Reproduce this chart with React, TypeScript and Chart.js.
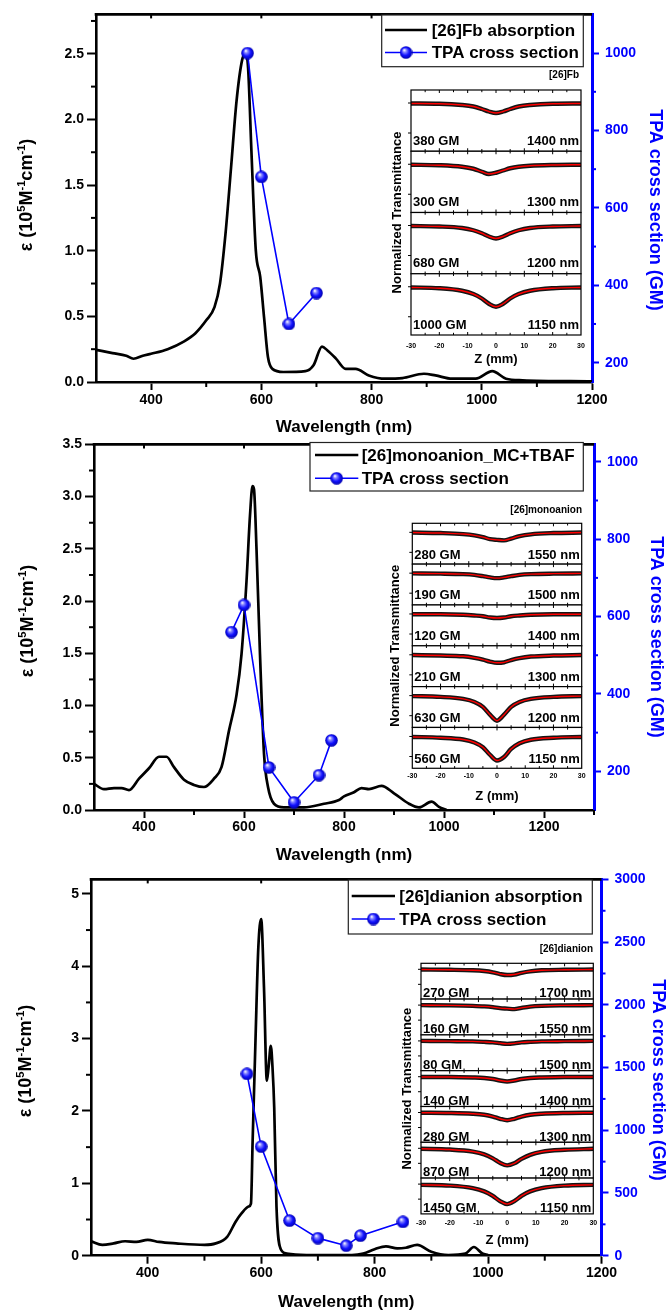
import React, { useEffect, useRef } from 'react';
import { Chart, registerables } from 'chart.js';

Chart.register(...registerables);

const FONT = "'Liberation Sans', Arial, Helvetica, sans-serif";
const BLUE = '#0000ff';

// ---------------- DATA ----------------
// Panel 1 : [26]Fb
const fbWavelength = [300, 330, 355, 368, 385, 400, 430, 460, 480, 500, 515, 525, 535, 545, 555, 565, 571, 576, 582, 590, 598, 605, 612, 620, 640, 680, 695, 710, 720, 735, 753, 771, 795, 825, 856, 895, 916, 946, 989, 1019, 1044, 1074, 1200];
const fbEpsilon = [0.245, 0.22, 0.2, 0.177, 0.2, 0.215, 0.25, 0.31, 0.37, 0.47, 0.57, 0.75, 1.13, 1.63, 2.14, 2.45, 2.5, 2.39, 1.76, 1.0, 0.8, 0.49, 0.19, 0.1, 0.076, 0.083, 0.13, 0.27, 0.24, 0.18, 0.1, 0.1, 0.05, 0.025, 0.03, 0.063, 0.05, 0.025, 0.025, 0.083, 0.025, 0.013, 0.005];
const fbTpaWavelength = [575, 600, 650, 700];
const fbTpaCross = [1000, 680, 300, 380];

// Panel 2 : [26]monoanion
const monoWavelength = [300, 320, 340, 355, 370, 390, 410, 430, 445, 460, 480, 500, 520, 540, 555, 570, 585, 595, 605, 612, 617, 620, 625, 632, 640, 648, 660, 680, 720, 760, 790, 800, 820, 835, 850, 875, 900, 930, 950, 975, 990, 1005];
const monoEpsilon = [0.25, 0.2, 0.21, 0.21, 0.19, 0.3, 0.4, 0.51, 0.51, 0.41, 0.29, 0.24, 0.22, 0.3, 0.41, 0.76, 1.1, 1.49, 2.19, 2.82, 3.1, 3.07, 2.5, 1.49, 0.54, 0.22, 0.06, 0.025, 0.025, 0.06, 0.095, 0.13, 0.17, 0.21, 0.2, 0.23, 0.16, 0.06, 0.025, 0.08, 0.03, 0.0];
const monoTpaWavelength = [575, 600, 650, 700, 750, 775];
const monoTpaCross = [560, 630, 210, 120, 190, 280];

// Panel 3 : [26]dianion
const diWavelength = [300, 320, 340, 360, 380, 400, 420, 450, 500, 520, 540, 555, 565, 578, 582, 585, 590, 595, 600, 605, 610, 613, 617, 620, 623, 627, 634, 645, 680, 760, 780, 800, 820, 840, 855, 875, 900, 930, 960, 975, 990, 1000];
const diEpsilon = [0.2, 0.15, 0.17, 0.2, 0.19, 0.22, 0.19, 0.17, 0.15, 0.17, 0.26, 0.47, 0.58, 0.68, 0.72, 1.6, 2.98, 4.26, 4.65, 3.7, 2.42, 2.6, 2.9, 2.6, 2.05, 0.68, 0.1, 0.03, 0.01, 0.01, 0.03, 0.09, 0.13, 0.1, 0.11, 0.15, 0.055, 0.01, 0.03, 0.12, 0.03, 0.01];
const diTpaWavelength = [575, 600, 650, 700, 750, 775, 850];
const diTpaCross = [1450, 870, 280, 140, 80, 160, 270];

// Z-scan insets (normalized transmittance at z positions, mm)
const zPositions = [-30, -20, -12, -8, -5, -2.5, 0, 2.5, 5, 8, 12, 20, 30];
const zTickLabels = [-30, -20, -10, 0, 10, 20, 30];
const zTickMinor = [-25, -15, -5, 5, 15, 25];

const fbZ1400 = [0.998, 0.997, 0.992, 0.986, 0.976, 0.966, 0.960, 0.966, 0.976, 0.986, 0.992, 0.997, 0.998];
const fbZ1300 = [0.998, 0.996, 0.990, 0.982, 0.970, 0.961, 0.966, 0.975, 0.984, 0.990, 0.994, 0.997, 0.998];
const fbZ1200 = [0.998, 0.996, 0.990, 0.981, 0.969, 0.956, 0.948, 0.956, 0.969, 0.981, 0.990, 0.996, 0.998];
const fbZ1150 = [0.997, 0.994, 0.984, 0.971, 0.953, 0.932, 0.920, 0.932, 0.953, 0.971, 0.984, 0.994, 0.997];
const fbZRows = [fbZ1400, fbZ1300, fbZ1200, fbZ1150];
const fbGmLabels = ['380 GM', '300 GM', '680 GM', '1000 GM'];
const fbNmLabels = ['1400 nm', '1300 nm', '1200 nm', '1150 nm'];

const monoZ1550 = [0.999, 0.997, 0.993, 0.988, 0.981, 0.973, 0.970, 0.968, 0.975, 0.985, 0.992, 0.997, 0.999];
const monoZ1500 = [0.999, 0.998, 0.996, 0.993, 0.988, 0.983, 0.980, 0.983, 0.988, 0.993, 0.996, 0.998, 0.999];
const monoZ1400 = [0.999, 0.999, 0.997, 0.994, 0.991, 0.986, 0.984, 0.986, 0.991, 0.994, 0.997, 0.999, 0.999];
const monoZ1300 = [0.999, 0.997, 0.994, 0.988, 0.981, 0.973, 0.968, 0.970, 0.979, 0.987, 0.993, 0.997, 0.999];
const monoZ1200 = [0.998, 0.995, 0.987, 0.975, 0.955, 0.924, 0.900, 0.924, 0.955, 0.975, 0.987, 0.995, 0.998];
const monoZ1150 = [0.998, 0.995, 0.988, 0.976, 0.957, 0.927, 0.904, 0.918, 0.950, 0.973, 0.987, 0.995, 0.998];
const monoZRows = [monoZ1550, monoZ1500, monoZ1400, monoZ1300, monoZ1200, monoZ1150];
const monoGmLabels = ['280 GM', '190 GM', '120 GM', '210 GM', '630 GM', '560 GM'];
const monoNmLabels = ['1550 nm', '1500 nm', '1400 nm', '1300 nm', '1200 nm', '1150 nm'];

const diZ1700 = [0.999, 0.998, 0.996, 0.993, 0.988, 0.981, 0.977, 0.979, 0.986, 0.992, 0.996, 0.998, 0.999];
const diZ1550 = [1.0, 0.999, 0.997, 0.995, 0.992, 0.988, 0.986, 0.984, 0.989, 0.994, 0.997, 0.999, 1.0];
const diZ1500 = [1.0, 0.999, 0.998, 0.996, 0.994, 0.991, 0.988, 0.990, 0.994, 0.996, 0.998, 0.999, 1.0];
const diZ1400 = [0.999, 0.999, 0.997, 0.995, 0.991, 0.985, 0.981, 0.985, 0.991, 0.995, 0.997, 0.999, 0.999];
const diZ1300 = [0.999, 0.998, 0.995, 0.991, 0.984, 0.975, 0.969, 0.975, 0.984, 0.991, 0.995, 0.998, 0.999];
const diZ1200 = [0.998, 0.995, 0.987, 0.976, 0.960, 0.942, 0.932, 0.940, 0.958, 0.974, 0.986, 0.994, 0.998];
const diZ1150 = [0.997, 0.994, 0.984, 0.971, 0.953, 0.932, 0.920, 0.932, 0.953, 0.971, 0.984, 0.994, 0.997];
const diZRows = [diZ1700, diZ1550, diZ1500, diZ1400, diZ1300, diZ1200, diZ1150];
const diGmLabels = ['270 GM', '160 GM', '80 GM', '140 GM', '280 GM', '870 GM', '1450 GM'];
const diNmLabels = ['1700 nm', '1550 nm', '1500 nm', '1400 nm', '1300 nm', '1200 nm', '1150 nm'];

// Tick values
const xMajorTicks = [400, 600, 800, 1000, 1200];
const xMinorTicks = [500, 700, 900, 1100];
const xMinorTicksWide = [500, 700, 900, 1100, 1300];
const epsTicksFb = [0, 0.5, 1.0, 1.5, 2.0, 2.5];
const epsMinorFb = [0.25, 0.75, 1.25, 1.75, 2.25, 2.75];
const epsTicksMono = [0, 0.5, 1.0, 1.5, 2.0, 2.5, 3.0, 3.5];
const epsMinorMono = [0.25, 0.75, 1.25, 1.75, 2.25, 2.75, 3.25];
const epsTicksDi = [0, 1, 2, 3, 4, 5];
const epsMinorDi = [0.5, 1.5, 2.5, 3.5, 4.5];
const gmTicksFb = [200, 400, 600, 800, 1000];
const gmMinorFb = [300, 500, 700, 900];
const gmTicksMono = [200, 400, 600, 800, 1000];
const gmMinorMono = [300, 500, 700, 900];
const gmTicksDi = [0, 500, 1000, 1500, 2000, 2500, 3000];
const gmMinorDi = [250, 750, 1250, 1750, 2250, 2750];

// ---------------- LAYOUT ----------------
type Inset = {
  x: number; w: number; top: number; rowH: number; yMin: number; yMax: number; yTicks: number[];
  labelOff: number; xPad: number; rows: number[][]; gm: string[]; nm: string[];
  ntX: number; zTitleY: number; tag: string; tagX: number; tagY: number;
};
type Panel = {
  top: number; h: number; padTop: number; left: number; right: number; xAxisH: number; xPad: number;
  xMin: number; xMax: number; xMinor: number[];
  yMax: number; yTicks: number[]; yMinor: number[]; yDigits: number;
  y2Min: number; y2Max: number; y2Ticks: number[]; y2Minor: number[];
  absX: number[]; absY: number[]; tpaX: number[]; tpaY: number[];
  legendText: string; legend: { x: number; y: number; w: number; h: number; r1: number; r2: number; l0: number; l1: number; tx: number };
  xTitleY: number; leftTitle: [number, number]; rightTitle: [number, number];
  inset: Inset;
};

const panels: Panel[] = [
  {
    top: 0, h: 440, padTop: 13, left: 96, right: 592, xAxisH: 58, xPad: 1.6,
    xMin: 300, xMax: 1200, xMinor: xMinorTicks,
    yMax: 2.8, yTicks: epsTicksFb, yMinor: epsMinorFb, yDigits: 1,
    y2Min: 150, y2Max: 1100, y2Ticks: gmTicksFb, y2Minor: gmMinorFb,
    absX: fbWavelength, absY: fbEpsilon, tpaX: fbTpaWavelength, tpaY: fbTpaCross,
    legendText: '[26]Fb absorption',
    legend: { x: 381.7, y: 15, w: 201.6, h: 51.7, r1: 30, r2: 52.5, l0: 385, l1: 427, tx: 431.7 },
    xTitleY: 427, leftTitle: [26, 195], rightTitle: [655, 210],
    inset: {
      x: 411, w: 170, top: 90, rowH: 61.25, yMin: 0.807, yMax: 1.052, yTicks: [1.0, 0.88],
      labelOff: 6.5, xPad: 6.8, rows: fbZRows, gm: fbGmLabels, nm: fbNmLabels,
      ntX: 397, zTitleY: 359, tag: '[26]Fb', tagX: 579, tagY: 75,
    },
  },
  {
    top: 430, h: 440, padTop: 11.3, left: 94, right: 594, xAxisH: 60, xPad: 0.6,
    xMin: 300, xMax: 1300, xMinor: xMinorTicksWide,
    yMax: 3.5, yTicks: epsTicksMono, yMinor: epsMinorMono, yDigits: 1,
    y2Min: 100, y2Max: 1045, y2Ticks: gmTicksMono, y2Minor: gmMinorMono,
    absX: monoWavelength, absY: monoEpsilon, tpaX: monoTpaWavelength, tpaY: monoTpaCross,
    legendText: '[26]monoanion_MC+TBAF',
    legend: { x: 310, y: 442.5, w: 273.3, h: 48.5, r1: 455, r2: 478.3, l0: 315, l1: 358.3, tx: 361.7 },
    xTitleY: 855, leftTitle: [27, 621], rightTitle: [656, 637],
    inset: {
      x: 412.3, w: 169.4, top: 523.3, rowH: 40.83, yMin: 0.873, yMax: 1.036, yTicks: [1.0, 0.92],
      labelOff: 5.5, xPad: 3.5, rows: monoZRows, gm: monoGmLabels, nm: monoNmLabels,
      ntX: 395, zTitleY: 796.7, tag: '[26]monoanion', tagX: 582, tagY: 510.7,
    },
  },
  {
    top: 865, h: 445, padTop: 13.3, left: 91, right: 601.5, xAxisH: 54.3, xPad: 1,
    xMin: 300, xMax: 1200, xMinor: xMinorTicks,
    yMax: 5.2, yTicks: epsTicksDi, yMinor: epsMinorDi, yDigits: 0,
    y2Min: 0, y2Max: 3000, y2Ticks: gmTicksDi, y2Minor: gmMinorDi,
    absX: diWavelength, absY: diEpsilon, tpaX: diTpaWavelength, tpaY: diTpaCross,
    legendText: '[26]dianion absorption',
    legend: { x: 348.3, y: 880, w: 244, h: 54, r1: 896, r2: 919, l0: 351.7, l1: 395, tx: 399.3 },
    xTitleY: 1302, leftTitle: [25, 1061], rightTitle: [657.5, 1080],
    inset: {
      x: 421, w: 172.3, top: 963.3, rowH: 35.8, yMin: 0.881, yMax: 1.024, yTicks: [1.0, 0.94],
      labelOff: 1.7, xPad: 4.5, rows: diZRows, gm: diGmLabels, nm: diNmLabels,
      ntX: 407.5, zTitleY: 1240, tag: '[26]dianion', tagX: 593, tagY: 949,
    },
  },
];

// ---------------- HELPERS ----------------
function makeSphere(d: number): HTMLCanvasElement {
  const c = document.createElement('canvas');
  c.width = d;
  c.height = d;
  const g = c.getContext('2d')!;
  const r = d / 2;
  const grad = g.createRadialGradient(r * 0.72, r * 0.62, r * 0.05, r, r, r);
  grad.addColorStop(0, '#ffffff');
  grad.addColorStop(0.22, '#8c8cff');
  grad.addColorStop(0.6, '#1212ff');
  grad.addColorStop(1, '#0000a8');
  g.fillStyle = grad;
  g.beginPath();
  g.arc(r, r, r - 0.2, 0, Math.PI * 2);
  g.fill();
  return c;
}

function line(ctx: CanvasRenderingContext2D, x0: number, y0: number, x1: number, y1: number) {
  ctx.beginPath();
  ctx.moveTo(x0, y0);
  ctx.lineTo(x1, y1);
  ctx.stroke();
}

function drawEpsTitle(ctx: CanvasRenderingContext2D, cx: number, cy: number, fs: number) {
  const segs: [string, boolean][] = [['ε (10', false], ['5', true], ['M', false], ['-1', true], ['cm', false], ['-1', true], [')', false]];
  const sfs = fs * 0.62;
  const widths = segs.map(([t, s]) => {
    ctx.font = `bold ${s ? sfs : fs}px ${FONT}`;
    return ctx.measureText(t).width;
  });
  const total = widths.reduce((a, b) => a + b, 0);
  ctx.save();
  ctx.translate(cx, cy);
  ctx.rotate(-Math.PI / 2);
  ctx.textAlign = 'left';
  ctx.textBaseline = 'alphabetic';
  ctx.fillStyle = '#000';
  let x = -total / 2;
  const base = fs * 0.36;
  segs.forEach(([t, s], i) => {
    ctx.font = `bold ${s ? sfs : fs}px ${FONT}`;
    ctx.fillText(t, x, s ? base - fs * 0.4 : base);
    x += widths[i];
  });
  ctx.restore();
}

// ---------------- MAIN PANEL ----------------
function MainPanel({ p }: { p: Panel }) {
  const ref = useRef<HTMLCanvasElement>(null);
  useEffect(() => {
    const sphere = makeSphere(13);
    const T = p.top;
    const tickFont = { family: FONT, size: 14, weight: 'bold' as const };
    const decor = {
      id: 'mainDecor',
      afterDraw(chart: any) {
        const ctx: CanvasRenderingContext2D = chart.ctx;
        const ca = chart.chartArea;
        const sx = chart.scales.x, sy = chart.scales.y, sy2 = chart.scales.y2;
        ctx.save();
        // top frame line
        ctx.strokeStyle = '#000';
        ctx.lineWidth = 2.6;
        line(ctx, ca.left - 1.3, ca.top, ca.right, ca.top);
        // minor ticks
        ctx.lineWidth = 2;
        p.xMinor.forEach((v) => { const px = sx.getPixelForValue(v); line(ctx, px, ca.bottom, px, ca.bottom + 5); });
        xMajorTicks.forEach((v) => { if (v < p.xMax) { const px = sx.getPixelForValue(v); line(ctx, px, ca.top, px, ca.top + 4); } });
        p.yMinor.forEach((v) => { const py = sy.getPixelForValue(v); line(ctx, ca.left - 5, py, ca.left, py); });
        ctx.strokeStyle = BLUE;
        p.y2Minor.forEach((v) => { const py = sy2.getPixelForValue(v); line(ctx, ca.right, py, ca.right + 4, py); });
        // axis titles
        ctx.fillStyle = '#000';
        ctx.font = `bold 17px ${FONT}`;
        ctx.textAlign = 'center';
        ctx.textBaseline = 'middle';
        ctx.fillText('Wavelength (nm)', (ca.left + ca.right) / 2, p.xTitleY - T);
        drawEpsTitle(ctx, p.leftTitle[0], p.leftTitle[1] - T, 18);
        ctx.save();
        ctx.translate(p.rightTitle[0], p.rightTitle[1] - T);
        ctx.rotate(Math.PI / 2);
        ctx.fillStyle = BLUE;
        ctx.font = `bold 18px ${FONT}`;
        ctx.textAlign = 'center';
        ctx.textBaseline = 'middle';
        ctx.fillText('TPA cross section (GM)', 0, 0);
        ctx.restore();
        // legend
        const L = p.legend;
        ctx.fillStyle = '#fff';
        ctx.fillRect(L.x, L.y - T, L.w, L.h);
        ctx.strokeStyle = '#222';
        ctx.lineWidth = 1.2;
        ctx.strokeRect(L.x, L.y - T, L.w, L.h);
        ctx.strokeStyle = '#000';
        ctx.lineWidth = 2.6;
        line(ctx, L.l0, L.r1 - T, L.l1, L.r1 - T);
        ctx.strokeStyle = BLUE;
        ctx.lineWidth = 1.6;
        line(ctx, L.l0, L.r2 - T, L.l1, L.r2 - T);
        ctx.drawImage(sphere, (L.l0 + L.l1) / 2 - 6.5, L.r2 - T - 6.5);
        ctx.fillStyle = '#000';
        ctx.font = `bold 17px ${FONT}`;
        ctx.textAlign = 'left';
        ctx.textBaseline = 'middle';
        ctx.fillText(p.legendText, L.tx, L.r1 - T + 1);
        ctx.fillText('TPA cross section', L.tx, L.r2 - T + 1);
        // inset texts
        const I = p.inset;
        const insetBottom = I.top + I.rowH * I.rows.length;
        ctx.save();
        ctx.translate(I.ntX, (I.top + insetBottom) / 2 - T);
        ctx.rotate(-Math.PI / 2);
        ctx.font = `bold 13px ${FONT}`;
        ctx.textAlign = 'center';
        ctx.textBaseline = 'middle';
        ctx.fillText('Normalized Transmittance', 0, 0);
        ctx.restore();
        ctx.font = `bold 13px ${FONT}`;
        ctx.textAlign = 'center';
        ctx.textBaseline = 'middle';
        ctx.fillText('Z (mm)', I.x + I.w / 2, I.zTitleY - T);
        ctx.font = `bold 10px ${FONT}`;
        ctx.textAlign = 'right';
        ctx.fillText(I.tag, I.tagX, I.tagY - T);
        ctx.restore();
      },
    };
    const chart = new Chart(ref.current!, {
      type: 'line',
      data: {
        datasets: [
          {
            label: 'TPA cross section',
            data: p.tpaX.map((x, i) => ({ x, y: p.tpaY[i] })),
            xAxisID: 'x', yAxisID: 'y2',
            borderColor: BLUE, backgroundColor: BLUE, borderWidth: 1.6,
            pointStyle: sphere as any, pointRadius: 6.5, tension: 0, fill: false,
          },
          {
            label: p.legendText,
            data: p.absX.map((x, i) => ({ x, y: p.absY[i] })),
            xAxisID: 'x', yAxisID: 'y',
            borderColor: '#000', borderWidth: 2.7, pointRadius: 0,
            cubicInterpolationMode: 'monotone', fill: false,
          },
        ],
      },
      options: {
        responsive: false,
        animation: false,
        layout: { padding: { top: p.padTop, left: 0, right: 0, bottom: 0 } },
        plugins: { legend: { display: false }, tooltip: { enabled: false } },
        scales: {
          x: {
            type: 'linear', position: 'bottom', min: p.xMin, max: p.xMax,
            afterBuildTicks: (s: any) => { s.ticks = xMajorTicks.map((value) => ({ value })); },
            afterFit: (s: any) => { s.height = p.xAxisH; },
            ticks: { callback: (v: any) => String(v), font: tickFont, color: '#000', padding: p.xPad, autoSkip: false, maxRotation: 0 },
            grid: { drawOnChartArea: false, drawTicks: true, tickLength: 8, tickWidth: 2, tickColor: '#000' },
            border: { display: true, color: '#000', width: 2.6 },
          },
          y: {
            type: 'linear', position: 'left', min: 0, max: p.yMax,
            afterBuildTicks: (s: any) => { s.ticks = p.yTicks.map((value) => ({ value })); },
            afterFit: (s: any) => { s.width = p.left; },
            ticks: { callback: (v: any) => Number(v).toFixed(p.yDigits), font: tickFont, color: '#000', padding: 3, autoSkip: false },
            grid: { drawOnChartArea: false, drawTicks: true, tickLength: 9, tickWidth: 2, tickColor: '#000' },
            border: { display: true, color: '#000', width: 2.6 },
          },
          y2: {
            type: 'linear', position: 'right', min: p.y2Min, max: p.y2Max,
            afterBuildTicks: (s: any) => { s.ticks = p.y2Ticks.map((value) => ({ value })); },
            afterFit: (s: any) => { s.width = 670 - p.right; },
            ticks: { callback: (v: any) => String(v), font: tickFont, color: BLUE, padding: 6, autoSkip: false },
            grid: { drawOnChartArea: false, drawTicks: true, tickLength: 7, tickWidth: 2, tickColor: BLUE },
            border: { display: true, color: BLUE, width: 3 },
          },
        },
      } as any,
      plugins: [decor],
    });
    return () => chart.destroy();
  }, [p]);
  return (
    <canvas
      ref={ref}
      width={670}
      height={p.h}
      style={{ position: 'absolute', left: 0, top: p.top, width: 670, height: p.h }}
    />
  );
}

// ---------------- INSET ROW ----------------
const INSET_MARGIN = 16;

function InsetRow({ ins, idx }: { ins: Inset; idx: number }) {
  const ref = useRef<HTMLCanvasElement>(null);
  const n = ins.rows.length;
  const isBottom = idx === n - 1;
  const rowTop = ins.top + idx * ins.rowH;
  const rowBot = rowTop + ins.rowH;
  const axisH = isBottom ? 20 : 0;
  const cTop = Math.floor(rowTop) - 2;
  const cH = Math.ceil(rowBot) + 2 + axisH - cTop;
  const cLeft = Math.floor(ins.x) - INSET_MARGIN;
  const cW = Math.ceil(ins.x + ins.w) + INSET_MARGIN - cLeft;
  useEffect(() => {
    const vals = ins.rows[idx];
    const pts = zPositions.map((x, i) => ({ x, y: vals[i] }));
    const decor = {
      id: 'insetDecor',
      beforeDraw(chart: any) {
        const ctx: CanvasRenderingContext2D = chart.ctx;
        const ca = chart.chartArea;
        ctx.save();
        ctx.fillStyle = '#fff';
        ctx.fillRect(ca.left, ca.top, ca.right - ca.left, ca.bottom - ca.top);
        ctx.restore();
      },
      afterDraw(chart: any) {
        const ctx: CanvasRenderingContext2D = chart.ctx;
        const ca = chart.chartArea;
        const sx = chart.scales.x, sy = chart.scales.y;
        ctx.save();
        ctx.strokeStyle = '#000';
        ctx.lineWidth = 1.2;
        ctx.strokeRect(ca.left, ca.top, ca.right - ca.left, ca.bottom - ca.top);
        ctx.lineWidth = 1;
        [...zTickLabels, ...zTickMinor].forEach((v) => {
          if (v <= -30 || v >= 30) return;
          const px = sx.getPixelForValue(v);
          const len = zTickLabels.includes(v) ? 3 : 2.2;
          line(ctx, px, ca.top, px, ca.top + len);
          line(ctx, px, ca.bottom, px, ca.bottom - len);
        });
        ins.yTicks.forEach((v) => {
          const py = sy.getPixelForValue(v);
          line(ctx, ca.left - 3, py, ca.left, py);
        });
        ctx.fillStyle = '#000';
        ctx.font = `bold 13px ${FONT}`;
        ctx.textBaseline = 'alphabetic';
        ctx.textAlign = 'left';
        ctx.fillText(ins.gm[idx], ca.left + 2, ca.bottom - ins.labelOff);
        ctx.textAlign = 'right';
        ctx.fillText(ins.nm[idx], ca.right - 2, ca.bottom - ins.labelOff);
        ctx.restore();
      },
    };
    const chart = new Chart(ref.current!, {
      type: 'line',
      data: {
        datasets: [
          { data: pts, borderColor: '#ff0000', borderWidth: 1.4, pointRadius: 0, cubicInterpolationMode: 'monotone', fill: false },
          { data: pts, borderColor: '#151515', borderWidth: 4.4, pointRadius: 0, cubicInterpolationMode: 'monotone', fill: false },
        ],
      },
      options: {
        responsive: false,
        animation: false,
        layout: {
          padding: {
            left: ins.x - cLeft,
            right: cLeft + cW - (ins.x + ins.w),
            top: rowTop - cTop,
            bottom: cH - axisH - (rowBot - cTop),
          },
        },
        plugins: { legend: { display: false }, tooltip: { enabled: false } },
        scales: {
          x: {
            type: 'linear', min: -30, max: 30, display: isBottom,
            afterBuildTicks: (s: any) => { s.ticks = zTickLabels.map((value) => ({ value })); },
            afterFit: (s: any) => { s.height = axisH; },
            ticks: { font: { family: FONT, size: 7, weight: 'bold' }, color: '#000', padding: ins.xPad, callback: (v: any) => String(v), autoSkip: false, maxRotation: 0 },
            grid: { display: false, drawTicks: false },
            border: { display: false },
          },
          y: { type: 'linear', display: false, min: ins.yMin, max: ins.yMax },
        },
      } as any,
      plugins: [decor],
    });
    return () => chart.destroy();
  }, [ins, idx]);
  return (
    <canvas
      ref={ref}
      width={cW}
      height={cH}
      style={{ position: 'absolute', left: cLeft, top: cTop, width: cW, height: cH }}
    />
  );
}

export default function App() {
  return (
    <div style={{ position: 'absolute', left: 0, top: 0, width: 670, height: 1310, background: '#fff', overflow: 'hidden' }}>
      {panels.map((p, i) => (
        <MainPanel key={'m' + i} p={p} />
      ))}
      {panels.map((p, i) =>
        p.inset.rows.map((_, r) => <InsetRow key={`i${i}-${r}`} ins={p.inset} idx={r} />)
      )}
    </div>
  );
}
